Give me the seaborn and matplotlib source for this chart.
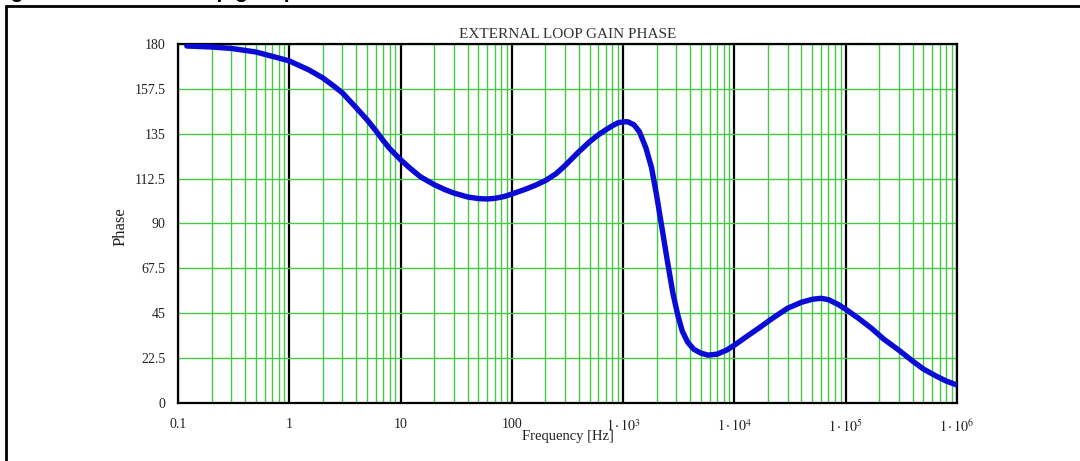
import numpy as np
import pandas as pd
import matplotlib
matplotlib.use("Agg")
import matplotlib.pyplot as plt
from matplotlib.lines import Line2D
from matplotlib.ticker import LogLocator, NullFormatter
import seaborn as sns

# Loop gain phase response (Hz, degrees)
freq = [0.12, 0.2, 0.3, 0.5, 0.8, 1, 1.5, 2, 2.5, 3, 4, 5, 6, 7, 8, 10,
        12, 15, 20, 25, 30, 40, 50, 60, 70, 85, 100,
        130, 160, 200, 250, 300, 400, 500, 600, 700, 800, 900, 1000, 1100,
        1250, 1400, 1600, 1800, 2000, 2200, 2500, 2800, 3100, 3400, 3800,
        4300, 5000, 5800, 7000, 8500, 10000,
        13000, 17000, 22000, 30000, 40000, 50000, 60000, 70000, 85000, 100000,
        130000, 170000, 220000, 300000, 400000, 500000, 650000, 800000, 1000000]
phase = [179, 178.5, 177.8, 176, 173, 171.5, 167, 163, 159, 155.5, 148, 142,
         136.5, 131.5, 127.5, 122,
         118, 113.5, 109.5, 107, 105.3, 103.3, 102.5, 102.3, 102.6, 103.5, 104.8,
         107, 109, 111.5, 115, 119, 126, 131, 134.5, 137, 139, 140.5, 141, 141,
         139.5, 136, 128, 118, 104, 90, 71, 55, 44, 36, 30.5,
         27, 25, 24, 24.5, 26.5, 29,
         33.5, 38, 42.5, 47.5, 50.5, 52, 52.5, 51.8, 49.5, 47,
         42.5, 37.5, 32, 26.5, 21, 17, 13.5, 11, 9]

x_ticks = [0.1, 1, 10, 100, 1e3, 1e4, 1e5, 1e6]
x_tick_labels = ["0.1", "1", "10", "100",
                 r"$1\cdot10^{3}$", r"$1\cdot10^{4}$",
                 r"$1\cdot10^{5}$", r"$1\cdot10^{6}$"]
y_ticks = [0, 22.5, 45, 67.5, 90, 112.5, 135, 157.5, 180]
y_tick_labels = ["0", "22.5", "45", "67.5", "90", "112.5", "135", "157.5", "180"]

sns.set_style("white")
plt.rcParams["font.family"] = ["Liberation Serif", "DejaVu Serif"]
plt.rcParams["mathtext.fontset"] = "stix"

W, H = 1080, 461
fig = plt.figure(figsize=(W / 100, H / 100), dpi=100)
fig.patch.set_facecolor("white")

ax = fig.add_axes([178 / W, 58 / H, 779 / W, 359 / H])

green = "#45c845"

df = pd.DataFrame({"Frequency": freq, "Phase": phase})
sns.lineplot(data=df, x="Frequency", y="Phase", ax=ax, color="#0b0bd6",
             linewidth=3.9, solid_capstyle="round", solid_joinstyle="round",
             zorder=5)

ax.set_xscale("log")
ax.set_xlim(0.1, 1e6)
ax.set_ylim(0, 180)
ax.set_xticks(x_ticks)
ax.set_xticklabels(x_tick_labels)
ax.xaxis.set_minor_locator(LogLocator(base=10, subs=np.arange(2, 10), numticks=100))
ax.xaxis.set_minor_formatter(NullFormatter())
ax.set_yticks(y_ticks)
ax.set_yticklabels(y_tick_labels)

ax.set_axisbelow(True)
ax.grid(which="minor", axis="x", color=green, linewidth=1.0)
ax.grid(which="major", axis="y", color=green, linewidth=1.0)
ax.grid(which="major", axis="x", color="black", linewidth=1.6)

ax.tick_params(axis="both", which="both", length=0, labelsize=10,
               colors="#222222")
ax.tick_params(axis="x", pad=11)
ax.tick_params(axis="y", pad=9)

for s in ax.spines.values():
    s.set_visible(True)
    s.set_color("black")
    s.set_linewidth(1.6)

ax.set_title("EXTERNAL LOOP GAIN PHASE", fontsize=11, color="#333333", pad=4)
ax.set_xlabel("Frequency [Hz]", fontsize=10.5, color="#222222")
ax.xaxis.set_label_coords(0.5, -0.075)
ax.set_ylabel("Phase", fontsize=12, color="#222222")
ax.yaxis.set_label_coords(-0.064, 0.49)

# Caption frame (top and left rules) and caption strip
fig.add_artist(Line2D([5.5 / W, 1.0], [1 - 6.5 / H, 1 - 6.5 / H],
                      transform=fig.transFigure, color="black", linewidth=2))
fig.add_artist(Line2D([5.5 / W, 5.5 / W], [0, 1 - 6.5 / H],
                      transform=fig.transFigure, color="black", linewidth=2))
fig.text(-8 / W, 1 + 2 / H, "Figure 14. External loop gain phase",
         fontsize=15, fontweight="bold", family="Liberation Sans",
         ha="left", va="baseline", color="black")

fig.savefig("out.png", dpi=100, facecolor="white")
